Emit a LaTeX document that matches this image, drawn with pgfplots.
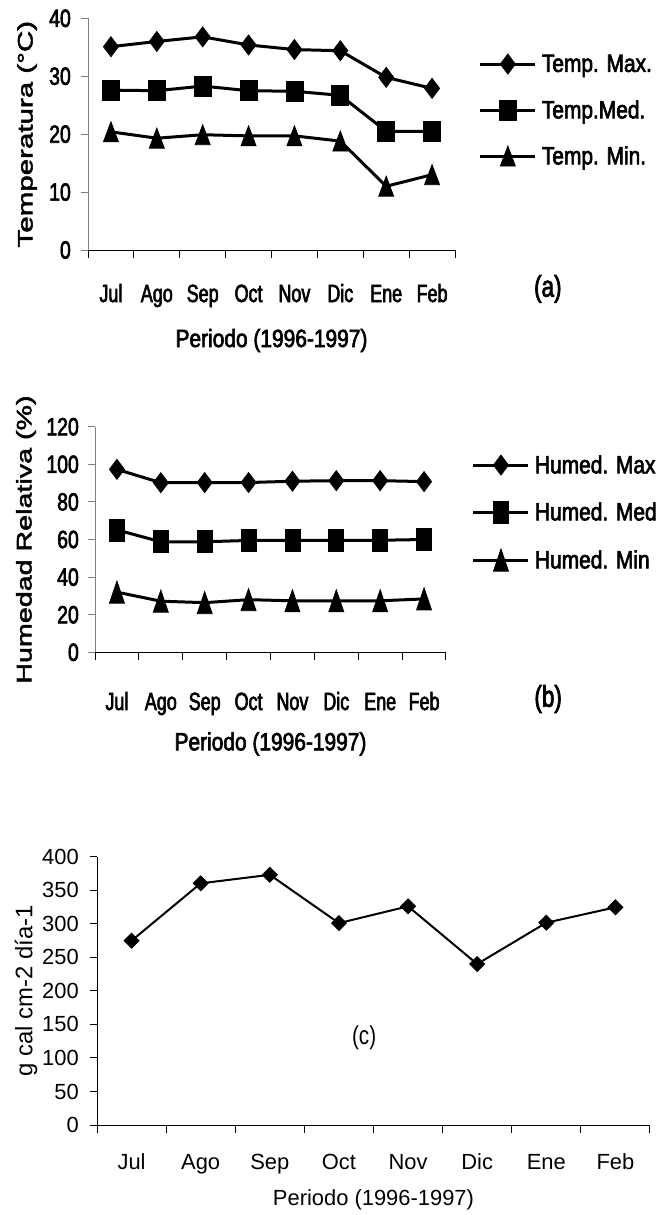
\documentclass[border=0pt]{standalone}
\usepackage{pgfplots}
\pgfplotsset{compat=1.18}
\usepackage{fontspec}
\setmainfont{Liberation Sans}
\newfontfamily\fT[FakeStretch=0.72,Scale=2.5,FakeBold=2.5]{Liberation Sans}
\newfontfamily\fY[FakeStretch=0.78,Scale=2.5,FakeBold=2.5]{Liberation Sans}
\newfontfamily\fL[FakeStretch=0.84,Scale=2.5,FakeBold=2.5]{Liberation Sans}
\newfontfamily\fRa[FakeStretch=1.41,Scale=2.1,FakeBold=2.5]{Liberation Sans}
\newfontfamily\fRb[FakeStretch=1.37,Scale=2.1,FakeBold=2.5]{Liberation Sans}
\newfontfamily\fP[FakeStretch=0.75,Scale=3.0,FakeBold=2.5]{Liberation Sans}
\newfontfamily\fCt[Scale=2.2]{Liberation Sans}
\newfontfamily\fCy[Scale=2.2]{Liberation Sans}
\newfontfamily\fCl[Scale=2.4]{Liberation Sans}
\newfontfamily\fCp[FakeStretch=0.8,Scale=2.6]{Liberation Sans}

\pgfplotsset{
 base/.style={
  scale only axis,
  axis lines*=left, axis line style={-, line width=1bp},
  xmin=-0.5, xmax=7.5, ymin=0,
  xtick={0,...,7},
  xticklabels={Jul,Ago,Sep,Oct,Nov,Dic,Ene,Feb},
  minor xtick={-0.5,0.5,...,7.5},
  major x tick style={draw=none},
  tick align=outside,
  major tick length=7bp, minor tick length=8bp,
  tick style={black, line width=1bp},
  /pgf/number format/assume math mode=true,
  xticklabel style={anchor=base, inner sep=0pt},
  yticklabel style={anchor=east, inner sep=0pt},
  clip=false,
  legend cell align=left,
  legend image code/.code={\draw[mark repeat=2,mark phase=2,##1] plot coordinates {(0bp,0bp) (27.5bp,0bp) (55bp,0bp)};},
 },
 grayy/.style={y axis line style={black!50}, ytick style={black!50}},
}

\begin{document}
\begin{tikzpicture}
\path[use as bounding box] (0bp,0bp) rectangle (664bp,-1215bp);

% (a)
\begin{axis}[base, grayy, at={(88bp,-250bp)}, anchor=south west,
  width=367bp, height=231.7bp, ymax=40, ytick={0,10,...,40},
  xticklabel style={font=\fT, yshift=-45bp},
  yticklabel style={font=\fY, xshift=-10bp},
  xlabel={Periodo (1996-1997)},
  xlabel style={font=\fL, at={(axis description cs:0.5,0)}, anchor=base, yshift=-97bp},
  ylabel={Temperatura (°C)},
  ylabel style={font=\fRa, at={(axis description cs:-0.166,0.5)}, anchor=center},
  legend style={at={(axis description cs:1.065,0.604)}, anchor=west, draw=none, fill=none,
    inner sep=0pt, outer sep=0pt, font=\fL, row sep=26bp, column sep=5bp, nodes={inner sep=0pt}},
]
\addplot[black, line width=3bp, mark=diamond*, mark size=10bp, mark options={line width=0.8bp}]
  coordinates {(0,35.1) (1,36.0) (2,36.8) (3,35.4) (4,34.6) (5,34.4) (6,29.8) (7,27.9)};
\addlegendentry{Temp. Max.}
\addplot[black, line width=3bp, mark=square*, mark size=10bp, mark options={line width=0.8bp, xscale=0.85}]
  coordinates {(0,27.6) (1,27.5) (2,28.3) (3,27.5) (4,27.4) (5,26.7) (6,20.5) (7,20.5)};
\addlegendentry{Temp.Med.}
\addplot[black, line width=3bp, mark=triangle*, mark size=13.3bp, mark options={line width=0.8bp, xscale=0.65, yshift=-3.3bp}]
  coordinates {(0,20.4) (1,19.3) (2,19.9) (3,19.7) (4,19.7) (5,18.8) (6,11.0) (7,13.0)};
\addlegendentry{Temp. Min.}
\node[font=\fP] at (axis description cs:1.253,-0.168) {(a)};
\end{axis}

% (b)
\begin{axis}[base, grayy, at={(95bp,-652.3bp)}, anchor=south west,
  width=351bp, height=225.6bp, ymax=120, ytick={0,20,...,120},
  xticklabel style={font=\fT, yshift=-50.7bp},
  yticklabel style={font=\fY, xshift=-9bp},
  xlabel={Periodo (1996-1997)},
  xlabel style={font=\fL, at={(axis description cs:0.5,0)}, anchor=base, yshift=-98bp},
  ylabel={Humedad Relativa (\%)},
  ylabel style={font=\fRb, at={(axis description cs:-0.1966,0.5)}, anchor=center},
  legend style={at={(axis description cs:1.074,0.617)}, anchor=west, draw=none, fill=none,
    inner sep=0pt, outer sep=0pt, font=\fL, row sep=26bp, column sep=5bp, nodes={inner sep=0pt}},
]
\addplot[black, line width=3bp, mark=diamond*, mark size=10bp, mark options={line width=0.8bp}]
  coordinates {(0,97.3) (1,90.2) (2,90.3) (3,90.3) (4,91.0) (5,91.3) (6,91.3) (7,90.8)};
\addlegendentry{Humed. Max}
\addplot[black, line width=3bp, mark=square*, mark size=11bp, mark options={line width=0.8bp, xscale=0.68}]
  coordinates {(0,65.1) (1,58.8) (2,58.8) (3,59.5) (4,59.6) (5,59.6) (6,59.6) (7,60.0)};
\addlegendentry{Humed. Med}
\addplot[black, line width=3bp, mark=triangle*, mark size=14.7bp, mark options={line width=0.8bp, xscale=0.59, yshift=-3.7bp}]
  coordinates {(0,32.0) (1,27.2) (2,26.4) (3,28.0) (4,27.4) (5,27.4) (6,27.4) (7,28.4)};
\addlegendentry{Humed. Min}
\node[font=\fP] at (axis description cs:1.291,-0.207) {(b)};
\end{axis}

% (c)
\begin{axis}[base, at={(97bp,-1125bp)}, anchor=south west,
  width=553bp, height=268.3bp, ymax=400, ytick={0,50,...,400},
  xticklabel style={font=\fCt, yshift=-37bp},
  yticklabel style={font=\fCy, xshift=-11bp},
  xlabel={Periodo (1996-1997)},
  xlabel style={font=\fCt, at={(axis description cs:0.5,0)}, anchor=base, yshift=-80bp},
  ylabel={g cal cm-2 día-1},
  ylabel style={font=\fCl, at={(axis description cs:-0.1284,0.5)}, anchor=center},
]
\addplot[black, line width=2bp, mark=diamond*, mark size=7.5bp, mark options={line width=0.8bp, xscale=1.33}]
  coordinates {(0,274.8) (1,360.3) (2,373) (3,301) (4,326) (5,240) (6,301.6) (7,324.6)};
\node[font=\fCp] at (axis description cs:0.483,0.324) {(c)};
\end{axis}
\end{tikzpicture}
\end{document}
